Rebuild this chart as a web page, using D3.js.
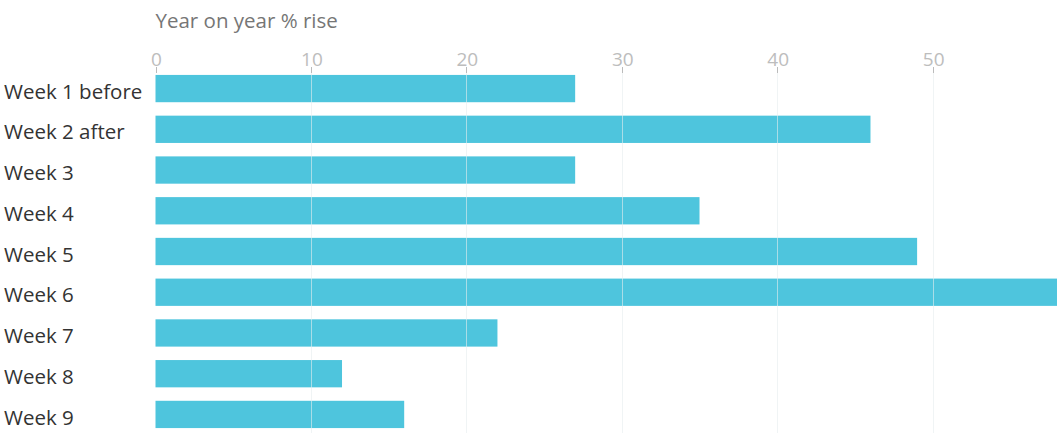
<!DOCTYPE html>
<html>
<head>
<meta charset="utf-8">
<script src="https://cdn.jsdelivr.net/npm/d3@7"></script>
<style>
  body { margin: 0; background: #fff; }
  svg { display: block; font-family: "Open Sans", sans-serif; }
</style>
</head>
<body>
<svg width="1058" height="433"></svg>
<script>
const weeks = ["Week 1 before", "Week 2 after", "Week 3", "Week 4", "Week 5", "Week 6", "Week 7", "Week 8", "Week 9"];
const rise = [27, 46, 27, 35, 49, 58, 22, 12, 16];
const ticks = [0, 10, 20, 30, 40, 50];

const svg = d3.select("svg");
const left = 155.5, right = 1057;

const x = d3.scaleLinear().domain([0, 58]).range([left, right]);
const y = d3.scaleBand().domain(weeks).range([68, 435]).paddingInner(0.33).paddingOuter(0.17);

// title
svg.append("text")
  .attr("x", left)
  .attr("y", 28)
  .attr("fill", "#767676")
  .style("font-size", "20.5px")
  .text("Year on year % rise");

// bars
svg.append("g")
  .selectAll("rect")
  .data(rise)
  .enter()
  .append("rect")
  .attr("x", x(0))
  .attr("y", (d, i) => y(weeks[i]))
  .attr("width", d => x(d) - x(0))
  .attr("height", y.bandwidth())
  .attr("fill", "#4ec5dd");

// grid lines over the bars
svg.append("g")
  .selectAll("line")
  .data(ticks.filter(d => d > 0))
  .enter()
  .append("line")
  .attr("x1", d => Math.round(x(d)) + 0.5)
  .attr("x2", d => Math.round(x(d)) + 0.5)
  .attr("y1", 73)
  .attr("y2", 433)
  .style("stroke", "rgba(230,236,238,0.6)");

// tick marks and labels
const tk = svg.append("g");
tk.selectAll("line")
  .data(ticks)
  .enter()
  .append("line")
  .attr("x1", d => Math.round(x(d)) + 0.5)
  .attr("x2", d => Math.round(x(d)) + 0.5)
  .attr("y1", 67)
  .attr("y2", 73)
  .style("stroke", "#bbb");

tk.selectAll("text")
  .data(ticks)
  .enter()
  .append("text")
  .attr("x", d => x(d) + 1)
  .attr("y", 66)
  .attr("text-anchor", "middle")
  .attr("fill", "#bdbdbd")
  .style("font-size", "19px")
  .text(d => d);

// category labels
svg.append("g")
  .selectAll("text")
  .data(weeks)
  .enter()
  .append("text")
  .attr("x", 4)
  .attr("y", d => y(d) + y.bandwidth() / 2 + 3)
  .attr("dy", "0.35em")
  .attr("fill", "#333")
  .style("font-size", "20.5px")
  .text(d => d);
</script>
</body>
</html>
